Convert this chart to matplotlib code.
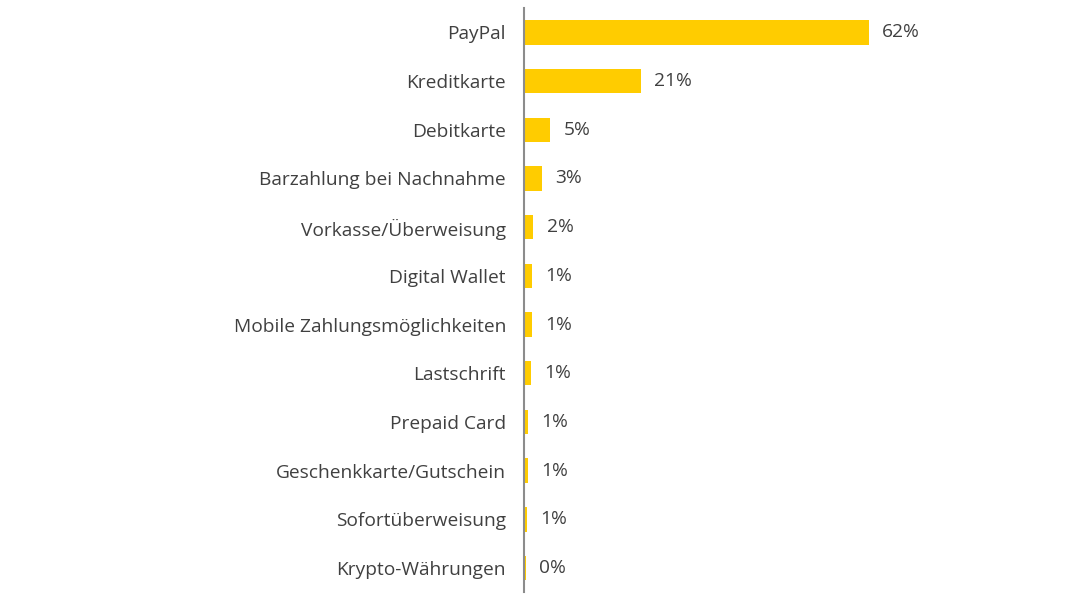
import matplotlib
matplotlib.use("Agg")
import matplotlib.pyplot as plt

categories = ["PayPal", "Kreditkarte", "Debitkarte", "Barzahlung bei Nachnahme",
              "Vorkasse/Überweisung", "Digital Wallet", "Mobile Zahlungsmöglichkeiten",
              "Lastschrift", "Prepaid Card", "Geschenkkarte/Gutschein",
              "Sofortüberweisung", "Krypto-Währungen"]
values = [62.0, 21.0, 4.7, 3.3, 1.7, 1.5, 1.5, 1.2, 0.8, 0.8, 0.6, 0.35]
value_labels = ["62%", "21%", "5%", "3%", "2%", "1%", "1%", "1%", "1%", "1%", "1%", "0%"]

bar_color = "#FFCC00"
text_color = "#404040"

plt.rcParams['font.family'] = ['Open Sans', 'DejaVu Sans']

fig = plt.figure(figsize=(10.83, 6.01), dpi=100)
ax = fig.add_axes([524 / 1083, 1 - 592.4 / 601, 556.5 / 1083, (592.4 - 8) / 601])

y = range(len(categories))
ax.barh(y, values, height=0.5, color=bar_color)

# percentage labels right of each bar
for yi, v, lab in zip(y, values, value_labels):
    ax.annotate(lab, (v, yi), xytext=(9.5, 0), textcoords="offset points",
                va="center", ha="left", fontsize=13.8, color=text_color)

ax.set_xlim(0, 100)
ax.set_ylim(len(categories) - 0.5, -0.5)
ax.set_yticks(list(y))
ax.set_yticklabels(categories, fontsize=13.8, color=text_color)
ax.tick_params(axis="y", length=0, pad=13)
ax.set_xticks([])

for s in ["top", "right", "bottom"]:
    ax.spines[s].set_visible(False)
ax.spines["left"].set_color("#8c8c8c")
ax.spines["left"].set_linewidth(1.5)

fig.savefig("out.png", dpi=100)
